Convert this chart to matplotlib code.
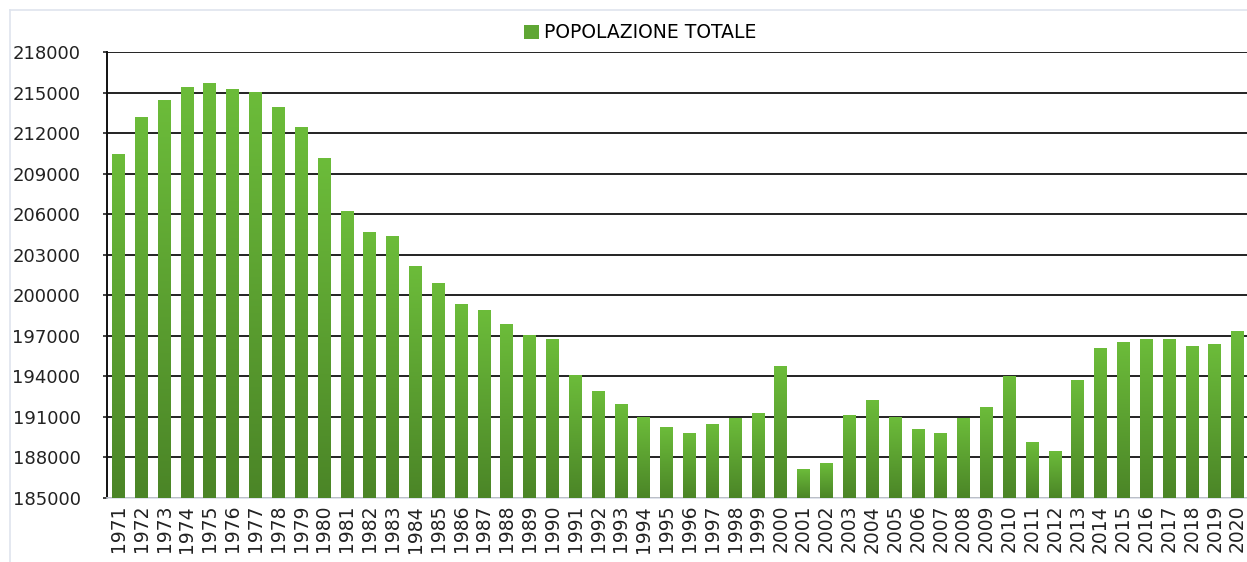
import matplotlib
matplotlib.use("Agg")
import matplotlib.pyplot as plt
import numpy as np
from matplotlib.lines import Line2D
from matplotlib.colors import LinearSegmentedColormap

anni = [str(a) for a in range(1971, 2021)]
popolazione = [
    210450, 213120, 214380, 215410, 215700, 215190, 214970, 213930, 212380, 210090,
    206170, 204610, 204320, 202100, 200840, 199290, 198840, 197810, 197000, 196700,
    194040, 192850, 191890, 190930, 190190, 189750, 190410, 190850, 191220, 194700,
    187080, 187530, 191080, 192190, 190930, 190040, 189750, 190850, 191670, 193960,
    189080, 188410, 193670, 196030, 196480, 196700, 196700, 196180, 196330, 197290,
]
yticks = list(range(185000, 218001, 3000))

W, H = 1247, 562
fig = plt.figure(figsize=(W / 100, H / 100), dpi=100)
ax = fig.add_axes([107 / W, 1 - 498 / H, 1142 / W, (498 - 52) / H])

x = np.arange(len(anni))
bars = ax.bar(x, np.array(popolazione) - 185000, bottom=185000, width=0.55,
              color="#5fa634", zorder=3, label="POPOLAZIONE TOTALE")

# sfumatura verticale per ogni barra (chiaro in alto, scuro in basso)
cmap = LinearSegmentedColormap.from_list("verde", ["#4b8527", "#6cbc3a"])
grad = np.linspace(0, 1, 256).reshape(-1, 1)
for b in bars:
    x0, y0 = b.get_x(), b.get_y()
    ax.imshow(grad, cmap=cmap, aspect="auto", origin="lower", zorder=4,
              interpolation="bilinear",
              extent=(x0, x0 + b.get_width(), y0, y0 + b.get_height()))

ax.set_xlim(-0.5, 49.5)
ax.set_ylim(185000, 218000)
ax.set_yticks(yticks)
ax.set_yticklabels([str(v) for v in yticks])
ax.set_xticks(x)
ax.set_xticklabels(anni, rotation=90)

ax.grid(axis="y", color="#222222", linewidth=1.4, zorder=1)
ax.tick_params(axis="y", length=3, width=1.2, pad=16, labelsize=13, colors="#222222")
ax.tick_params(axis="x", length=0, pad=5, labelsize=13.5, colors="#222222")
for s in ["top", "right"]:
    ax.spines[s].set_visible(False)
ax.spines["left"].set_color("#111111")
ax.spines["left"].set_linewidth(1.4)
ax.spines["bottom"].set_color("#d9dee8")
ax.spines["bottom"].set_linewidth(1.2)

# cornice esterna del grafico
fig.add_artist(Line2D([10 / W, 1], [1 - 10 / H, 1 - 10 / H], color="#dfe4ee", lw=1.2))
fig.add_artist(Line2D([10 / W, 10 / W], [0, 1 - 10 / H], color="#dfe4ee", lw=1.2))

fig.legend(handles=[bars], labels=["POPOLAZIONE TOTALE"], loc="center",
           bbox_to_anchor=(640 / W, 1 - 33 / H), frameon=False, fontsize=13.5,
           handlelength=0.8, handleheight=0.8, handletextpad=0.3)

fig.savefig("out.png", dpi=100)
